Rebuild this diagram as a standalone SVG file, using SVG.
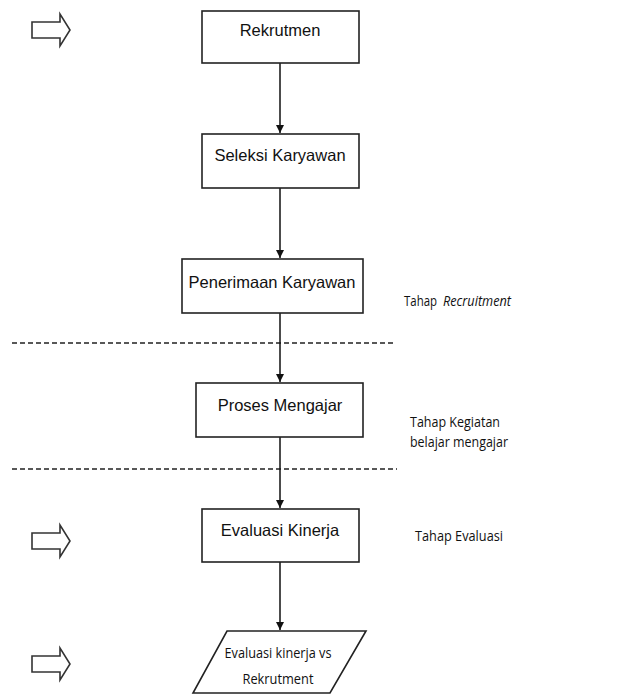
<svg xmlns="http://www.w3.org/2000/svg" width="628" height="695" viewBox="0 0 628 695">
<style>
.box{fill:#fff;stroke:#222;stroke-width:1.6}
.t{font-family:"Liberation Sans",Arial,sans-serif;font-size:16.5px;fill:#111;text-anchor:middle}
.c{font-family:"Open Sans","Liberation Sans",sans-serif;font-size:14px;fill:#111}
.conn{stroke:#111;stroke-width:1.5;fill:none}
.dash{stroke:#222;stroke-width:1.3;stroke-dasharray:5,3;fill:none}
.hollow{fill:#fff;stroke:#333;stroke-width:1.6;stroke-linejoin:miter}
</style>
<defs>
<marker id="ah" markerWidth="10" markerHeight="10" refX="9" refY="5" orient="auto" markerUnits="userSpaceOnUse">
<path d="M1,1 L9,5 L1,9 Z" fill="#111"/>
</marker>
<path id="harrow" d="M0,8 H28 V0 L38,16 L28,32 V24 H0 Z"/>
</defs>
<rect width="628" height="695" fill="#fff"/>
<g id="side-arrows">
<use href="#harrow" class="hollow" x="32" y="14"/>
<use href="#harrow" class="hollow" x="32" y="525"/>
<use href="#harrow" class="hollow" x="32" y="648"/>
</g>
<g id="dividers">
<line class="dash" x1="12" y1="343" x2="394" y2="343"/>
<line class="dash" x1="12" y1="469" x2="397" y2="469"/>
</g>
<g id="connectors">
<line class="conn" x1="280" y1="63" x2="280" y2="133" marker-end="url(#ah)"/>
<line class="conn" x1="280" y1="188" x2="280" y2="258" marker-end="url(#ah)"/>
<line class="conn" x1="280" y1="313" x2="280" y2="382" marker-end="url(#ah)"/>
<line class="conn" x1="280" y1="437" x2="280" y2="508" marker-end="url(#ah)"/>
<line class="conn" x1="280" y1="562" x2="280" y2="630" marker-end="url(#ah)"/>
</g>
<g id="rekrutmen">
<rect class="box" x="202" y="11" width="157" height="52"/>
<text class="t" x="280" y="36">Rekrutmen</text>
</g>
<g id="seleksi">
<rect class="box" x="202" y="134" width="157" height="54"/>
<text class="t" x="280" y="161">Seleksi Karyawan</text>
</g>
<g id="penerimaan">
<rect class="box" x="182" y="259" width="181" height="54"/>
<text class="t" x="272" y="288">Penerimaan Karyawan</text>
</g>
<g id="proses">
<rect class="box" x="196" y="383" width="167" height="54"/>
<text class="t" x="280" y="411">Proses Mengajar</text>
</g>
<g id="evaluasi">
<rect class="box" x="202" y="509" width="157" height="53"/>
<text class="t" x="280" y="536">Evaluasi Kinerja</text>
</g>
<g id="evaluasi-vs">
<path class="box" d="M227,631 H366 L330,693 H193 Z"/>
<text class="c" x="278" y="658" text-anchor="middle" textLength="107" lengthAdjust="spacingAndGlyphs">Evaluasi kinerja vs</text>
<text class="c" x="278" y="684" text-anchor="middle" textLength="71" lengthAdjust="spacingAndGlyphs">Rekrutment</text>
</g>
<g id="labels">
<text class="c" x="404" y="306" font-size="12.5" textLength="33" lengthAdjust="spacingAndGlyphs">Tahap</text>
<text class="c" x="443" y="306" font-style="italic" textLength="68" lengthAdjust="spacingAndGlyphs">Recruitment</text>
<text class="c" x="410" y="427" textLength="90" lengthAdjust="spacingAndGlyphs">Tahap Kegiatan</text>
<text class="c" x="410" y="447" textLength="98" lengthAdjust="spacingAndGlyphs">belajar mengajar</text>
<text class="c" x="415" y="541" textLength="88" lengthAdjust="spacingAndGlyphs">Tahap Evaluasi</text>
</g>
</svg>
